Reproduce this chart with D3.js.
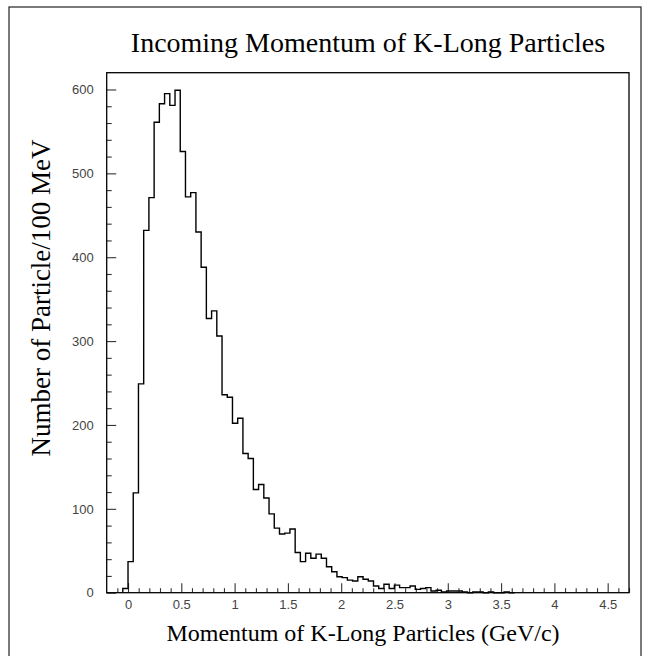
<html lang="en">
  <head>
    <meta charset="utf-8">
    <title>K-Long momentum</title>
    <script src="https://d3js.org/d3.v7.min.js"></script>
    <style>
      body { margin: 0; background: white; }
    </style>
  </head>
  <body>
    <div id="my_dataviz"></div>
    <script>

// histogram: first bin starts at binStart, each bin binWidth GeV/c wide
var binStart = -0.049;
var binWidth = 0.049;
var counts = [5, 37, 119, 249, 432, 471, 561, 583, 595, 581, 599, 526, 472, 477, 430, 388,
  327, 336, 306, 236, 233, 202, 208, 166, 160, 123, 129, 113, 94, 77, 70, 71,
  76, 48, 37, 47, 41, 46, 41, 31, 25, 19, 18, 15, 14, 19, 16, 14,
  8, 5, 10, 5, 9, 6, 6, 8, 4, 5, 6, 2, 3, 1, 2, 2,
  2, 1, 0, 1, 1, 0, 1, 0, 0, 1, 0];

var xMajor = [0, 0.5, 1, 1.5, 2, 2.5, 3, 3.5, 4, 4.5];
var yMajor = [0, 100, 200, 300, 400, 500, 600];

var titleText = "Incoming Momentum of K-Long Particles";
var xLabel = "Momentum of K-Long Particles (GeV/c)";
var yLabel = "Number of Particle/100 MeV";

// set the dimensions and margins of the graph
var margin = {top: 72.7, left: 106.7},
    width = 522.3,
    height = 520;

var svg = d3.select("#my_dataviz")
  .append("svg")
    .attr("width", 648)
    .attr("height", 656);

// outer border
svg.append("rect")
  .attr("x", 9).attr("y", 7)
  .attr("width", 632).attr("height", 700)
  .style("fill", "none")
  .style("stroke", "#222")
  .style("stroke-width", 1.2);

var g = svg.append("g")
  .attr("transform", "translate(" + margin.left + "," + margin.top + ")");

var x = d3.scaleLinear().domain([-0.2, 4.7]).range([0, width]);
var y = d3.scaleLinear().domain([0, 620]).range([height, 0]);

// minor ticks
var xMinor = d3.range(-1, 48).map(function(i) { return i / 10; })
  .filter(function(v) { return Math.abs(v * 2 - Math.round(v * 2)) > 1e-6; });
var yMinor = d3.range(0, 31).map(function(i) { return i * 20; })
  .filter(function(v) { return v % 100 != 0; });

g.append("g")
  .attr("transform", "translate(0," + height + ")")
  .call(d3.axisBottom(x).tickValues(xMinor).tickSize(-4.5).tickFormat(""));
g.append("g")
  .attr("transform", "translate(0," + height + ")")
  .call(d3.axisBottom(x).tickValues(xMajor).tickSize(-9.5).tickPadding(7).tickFormat(d3.format("")));
g.append("g")
  .call(d3.axisLeft(y).tickValues(yMinor).tickSize(-5).tickFormat(""));
g.append("g")
  .call(d3.axisLeft(y).tickValues(yMajor).tickSize(-9.5).tickPadding(13));

g.selectAll(".domain").remove();
g.selectAll(".tick line").style("stroke", "#333").style("stroke-width", 1.1);
g.selectAll(".tick text")
  .style("font-family", "'Liberation Sans', Arial, sans-serif")
  .style("font-size", "13px")
  .style("fill", "#444");

// histogram outline
var pts = [[binStart, 0]];
counts.forEach(function(c, i) { pts.push([binStart + i * binWidth, c]); });
pts.push([binStart + counts.length * binWidth, 0]);

g.append("path")
  .datum(pts)
  .attr("d", d3.line()
    .x(function(d) { return x(d[0]); })
    .y(function(d) { return y(d[1]); })
    .curve(d3.curveStepAfter))
  .style("fill", "none")
  .style("stroke", "black")
  .style("stroke-width", 1.4);

// plot frame
g.append("rect")
  .attr("width", width)
  .attr("height", height)
  .style("fill", "none")
  .style("stroke", "black")
  .style("stroke-width", 1.3);

// titles
svg.append("text")
  .attr("x", 368).attr("y", 52)
  .style("text-anchor", "middle")
  .style("font-family", "'Liberation Serif', 'Times New Roman', serif")
  .style("font-size", "28px")
  .text(titleText);

svg.append("text")
  .attr("x", 363).attr("y", 641)
  .style("text-anchor", "middle")
  .style("font-family", "'Liberation Serif', 'Times New Roman', serif")
  .style("font-size", "24px")
  .text(xLabel);

svg.append("text")
  .attr("transform", "translate(50,298) rotate(-90)")
  .style("text-anchor", "middle")
  .style("font-family", "'Liberation Serif', 'Times New Roman', serif")
  .style("font-size", "27px")
  .text(yLabel);

    </script>
  </body>
</html>
